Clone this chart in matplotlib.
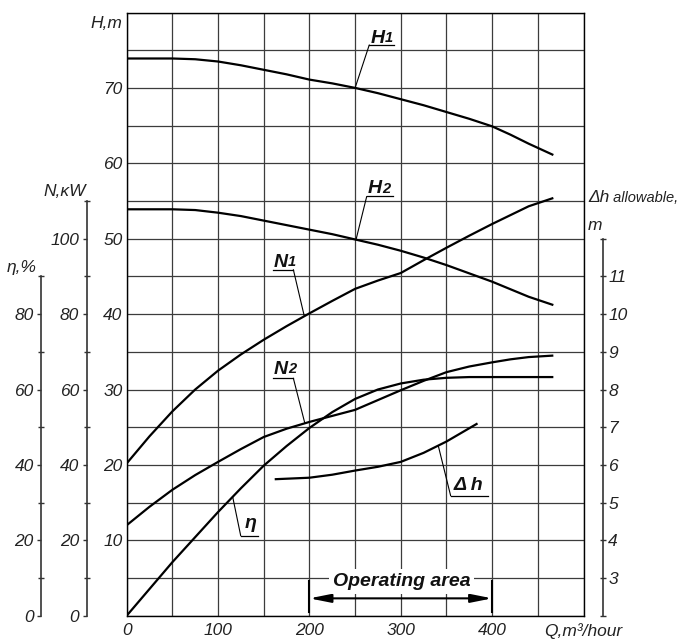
import matplotlib
matplotlib.use('Agg')
import matplotlib.pyplot as plt
import numpy as np

plt.rcParams['font.family'] = ['Liberation Sans', 'DejaVu Sans']

# ---------------- data ----------------
Q_H = [0, 25, 50, 75, 100, 125, 150, 175, 200, 225, 250, 275, 300, 325, 350, 375, 400, 420, 440, 467]
H1 = [73.9, 73.9, 73.9, 73.8, 73.5, 73.0, 72.4, 71.8, 71.1, 70.6, 70.0, 69.3, 68.5, 67.7, 66.8,
      65.9, 64.9, 63.8, 62.6, 61.1]
H2 = [53.9, 53.9, 53.9, 53.8, 53.45, 53.0, 52.4, 51.8, 51.2, 50.6, 49.9, 49.2, 48.4, 47.5, 46.5,
      45.4, 44.3, 43.3, 42.3, 41.2]

Q_N1 = [0, 25, 50, 75, 100, 125, 150, 175, 200, 225, 250, 275, 300, 325, 350, 375, 400, 440, 467]
N1 = [40.4, 47.6, 54.2, 60.0, 65.0, 69.3, 73.2, 76.8, 80.2, 83.5, 86.7, 88.9, 90.9, 94.3, 97.6,
      100.8, 103.9, 108.6, 110.8]

Q_N2 = [0, 25, 50, 75, 100, 125, 150, 175, 200, 225, 250, 275, 300, 325, 350, 375, 400, 420, 440, 467]
N2 = [24.0, 28.9, 33.4, 37.3, 40.8, 44.2, 47.4, 49.6, 51.4, 53.0, 54.6, 57.2, 59.8, 62.3, 64.6,
      66.1, 67.2, 68.0, 68.6, 69.0]

Q_eta = [0, 50, 100, 125, 150, 175, 200, 225, 250, 275, 300, 325, 350, 375, 400, 440, 467]
eta = [0, 14.2, 27.5, 33.8, 39.8, 45.0, 49.8, 54.0, 57.5, 60.0, 61.6, 62.6, 63.1, 63.3, 63.3, 63.3, 63.3]

Q_dh = [162, 200, 225, 250, 275, 300, 325, 350, 384]
dh = [5.62, 5.66, 5.74, 5.85, 5.95, 6.08, 6.32, 6.62, 7.1]

OPERATING = (200, 400)

x_ticks = [0, 50, 100, 150, 200, 250, 300, 350, 400, 450, 500]
x_labels = ['0', '', '100', '', '200', '', '300', '', '400', '', 'Q,m³/hour']
H_ticks = list(range(0, 81, 5))
H_labels = ['' if (v % 10 or v in (0, 80)) else str(v) for v in H_ticks]
N_major = [0, 20, 40, 60, 80, 100]
N_minor = [10, 30, 50, 70, 90, 110]
eta_major = [0, 20, 40, 60, 80]
eta_minor = [10, 30, 50, 70, 90]
dh_ticks = list(range(2, 13))
dh_labels = ['' if v in (2, 12) else str(v) for v in dh_ticks]

FS = 12.5

# ---------------- figure ----------------
fig = plt.figure(figsize=(6.9, 6.41), dpi=100)
rect = [126.7 / 690, 1 - 615.7 / 641, (583.5 - 126.7) / 690, (615.7 - 12.5) / 641]
ax = fig.add_axes(rect)
ax.set_xlim(0, 500)
ax.set_ylim(0, 80)
ax.set_xticks(x_ticks)
ax.set_xticklabels(x_labels, fontsize=FS, style='italic', color='#222222')
ax.set_yticks(H_ticks)
ax.set_yticklabels(H_labels, fontsize=FS, style='italic', color='#222222')
ax.tick_params(axis='both', length=0)
ax.tick_params(axis='x', pad=5)
ax.tick_params(axis='y', pad=3)
ax.grid(True, color='#3c3c3c', lw=0.9)
ax.set_axisbelow(True)
for s in ax.spines.values():
    s.set_color('black')
    s.set_linewidth(1.0)

TXT = dict(style='italic', color='#222222')


def overlay(ylim, name):
    a = fig.add_axes(rect, sharex=ax, label=name)
    a.set_ylim(*ylim)
    a.patch.set_visible(False)
    for s in a.spines.values():
        s.set_visible(False)
    a.tick_params(axis='x', which='both', bottom=False, labelbottom=False)
    return a


# N axis
axN = overlay((0, 160), 'N')
sp = axN.spines['left']
sp.set_visible(True)
sp.set_position(('outward', (126.7 - 87.3) * 0.72))
sp.set_bounds(0, 110)
sp.set_color('#333333')
sp.set_linewidth(1.2)
axN.set_yticks(N_major)
axN.set_yticklabels([str(v) for v in N_major], fontsize=FS, **TXT)
axN.set_yticks(N_minor, minor=True)
axN.tick_params(axis='y', which='major', direction='out', length=3, width=1, colors='#333333', pad=3)
axN.tick_params(axis='y', which='minor', direction='inout', length=5, width=1, colors='#333333')
for t in axN.get_yticklabels():
    t.set_color('#222222')

# eta axis
axE = overlay((0, 160), 'eta')
sp = axE.spines['left']
sp.set_visible(True)
sp.set_position(('outward', (126.7 - 40.7) * 0.72))
sp.set_bounds(0, 90)
sp.set_color('#333333')
sp.set_linewidth(1.2)
axE.set_yticks(eta_major)
axE.set_yticklabels([str(v) for v in eta_major], fontsize=FS, **TXT)
axE.set_yticks(eta_minor, minor=True)
axE.tick_params(axis='y', which='major', direction='out', length=3, width=1, colors='#333333', pad=2)
axE.tick_params(axis='y', which='minor', direction='inout', length=5, width=1, colors='#333333')
for t in axE.get_yticklabels():
    t.set_color('#222222')

# delta-h axis
axD = overlay((2, 18), 'dh')
axD.yaxis.tick_right()
sp = axD.spines['right']
sp.set_visible(True)
sp.set_position(('outward', (603.3 - 583.5) * 0.72))
sp.set_bounds(2, 12)
sp.set_color('#333333')
sp.set_linewidth(1.2)
axD.set_yticks(dh_ticks)
axD.set_yticklabels(dh_labels, fontsize=FS, **TXT)
axD.tick_params(axis='y', which='major', direction='inout', length=5, width=1, colors='#333333', pad=1)
for t in axD.get_yticklabels():
    t.set_color('#222222')

# ---------------- curves ----------------
LW = 1.6
ax.plot(Q_H, H1, color='black', lw=LW, solid_capstyle='butt')
ax.plot(Q_H, H2, color='black', lw=LW, solid_capstyle='butt')
axN.plot(Q_N1, N1, color='black', lw=LW, solid_capstyle='butt')
axN.plot(Q_N2, N2, color='black', lw=LW, solid_capstyle='butt')
axE.plot(Q_eta, eta, color='black', lw=LW, solid_capstyle='butt')
axD.plot(Q_dh, dh, color='black', lw=LW, solid_capstyle='butt')

# ---------------- axis titles ----------------
fig.text(122 / 690, 1 - 23 / 641, 'H,m', ha='right', va='center', fontsize=FS, **TXT)
fig.text(86 / 690, 1 - 191.5 / 641, 'N,κW', ha='right', va='center', fontsize=FS, **TXT)
fig.text(37 / 690, 1 - 267 / 641, 'η,%', ha='right', va='center', fontsize=FS, **TXT)
tdh = fig.text(588 / 690, 1 - 198 / 641, 'Δh', ha='left', va='center', fontsize=FS, **TXT)
fig.text(588 / 690, 1 - 225 / 641, 'm', ha='left', va='center', fontsize=FS, **TXT)
ax.annotate(' allowable,', xy=(1, 0), xycoords=tdh, xytext=(0, 0.3), textcoords='offset points',
            ha='left', va='bottom', fontsize=10.5, **TXT)

# ---------------- curve labels ----------------
BI = dict(style='italic', weight='bold', color='#111111')


def curve_label(main, sub, tx, ty, u0, u1, uy, from_right, q, Qs, Vs, tr):
    t = ax.text(tx, ty, main, ha='left', va='baseline', fontsize=14, **BI)
    if sub:
        ax.annotate(sub, xy=(1, 0), xycoords=t, xytext=(0.3, 1.2), textcoords='offset points',
                    ha='left', va='bottom', fontsize=10.5, **BI)
    ax.plot([u0, u1], [uy, uy], color='black', lw=0.9)
    sx = u1 if from_right else u0
    ax.annotate('', xy=(q, np.interp(q, Qs, Vs)), xycoords=tr, xytext=(sx, uy),
                textcoords=ax.transData,
                arrowprops=dict(arrowstyle='-', lw=0.8, color='black', shrinkA=0, shrinkB=0))


curve_label('H', '1', 267.0, 76.0, 265.5, 292.6, 75.7, False, 250, Q_H, H1, ax.transData)
curve_label('H', '2', 263.5, 56.0, 262.7, 292.0, 55.6, False, 251, Q_H, H2, ax.transData)
curve_label('N', '1', 160.5, 46.3, 160.5, 182.4, 45.9, True, 194.4, Q_N1, N1, axN.transData)
curve_label('N', '2', 160.5, 32.05, 160.5, 182.4, 31.5, True, 195, Q_N2, N2, axN.transData)
curve_label('η', '', 129.5, 11.6, 124.8, 144.0, 10.6, False, 116, Q_eta, eta, axE.transData)
curve_label('Δ h', '', 357.5, 16.7, 354.6, 395.1, 15.9, False, 341, Q_dh, dh, axD.transData)

# ---------------- operating area ----------------
for q in OPERATING:
    ax.plot([q, q], [0.5, 4.6], color='black', lw=1.5, zorder=4)
ax.annotate('', xy=(OPERATING[0], 2.3), xytext=(OPERATING[1], 2.3),
            arrowprops=dict(arrowstyle='<|-|>,head_length=0.85,head_width=0.17', color='black',
                            lw=1.5, mutation_scale=15, shrinkA=0, shrinkB=0), zorder=4)
ax.text(301, 3.9, 'Operating area', ha='center', va='baseline', fontsize=14, zorder=5,
        bbox=dict(boxstyle='square,pad=0.2', fc='white', ec='none'), **BI)

fig.savefig('out.png', dpi=100)
